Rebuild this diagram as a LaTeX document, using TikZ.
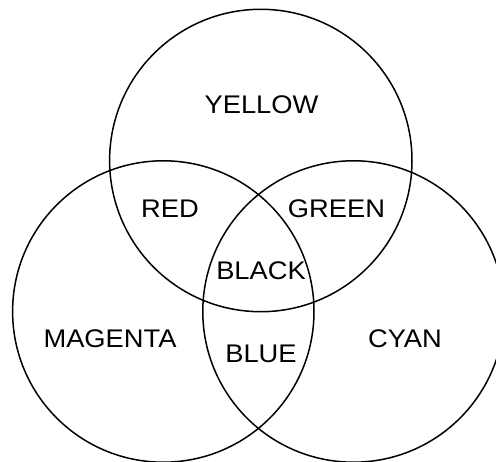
\documentclass[tikz,border=0pt]{standalone}
\usepackage{fontspec}
\setmainfont{Liberation Sans}
\begin{document}
\begin{tikzpicture}[x=1pt,y=-1pt,
  ring/.style={circle,draw=black,line width=1.5pt,minimum size=301.4pt,inner sep=0pt},
  lbl/.style={anchor=base,inner sep=0pt,font=\fontsize{25.5}{30}\selectfont}]
\useasboundingbox (0,0) rectangle (496,462);
\node[ring,minimum size=302.4pt] (Y) at (260.8,160.5) {};
\node[ring] (M) at (163.3,311.5) {};
\node[ring] (C) at (353.5,311.5) {};
\node[lbl] (yellow) at (261.5,113.3) {\scalebox{1.07}[1]{YELLOW}};
\node[lbl] (red) at (170,218) {\scalebox{1.07}[1]{RED}};
\node[lbl] (green) at (336.5,218) {\scalebox{1.07}[1]{GREEN}};
\node[lbl] (black) at (261,280) {\scalebox{1.07}[1]{BLACK}};
\node[lbl] (magenta) at (110,347.3) {\scalebox{1.07}[1]{MAGENTA}};
\node[lbl] (blue) at (261,363) {\scalebox{1.07}[1]{BLUE}};
\node[lbl] (cyan) at (405,347.3) {\scalebox{1.07}[1]{CYAN}};
\end{tikzpicture}
\end{document}
